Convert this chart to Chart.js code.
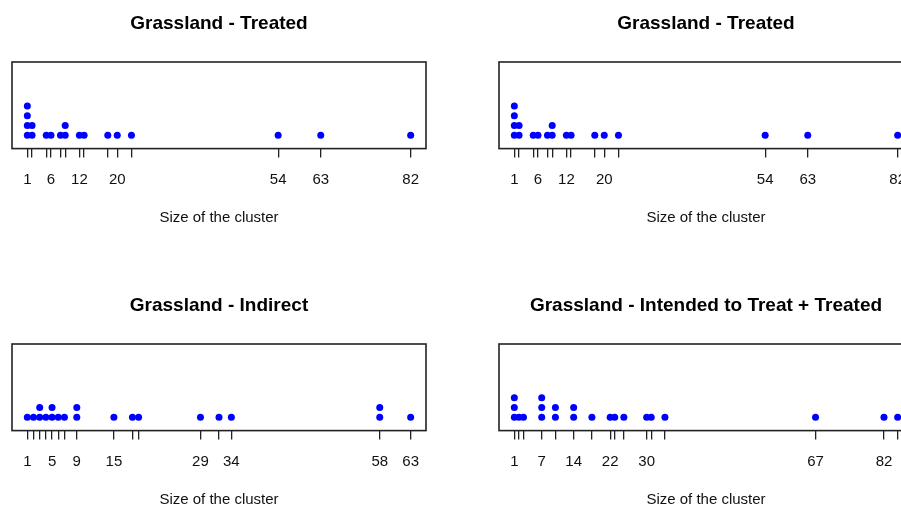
<!DOCTYPE html>
<html>
<head>
<meta charset="utf-8">
<script src="https://cdn.jsdelivr.net/npm/chart.js@4.4.0/dist/chart.umd.min.js"></script>
<style>
  html, body { margin: 0; padding: 0; background: #fff; width: 901px; height: 506px; overflow: hidden; position: relative; }
  canvas { position: absolute; }
</style>
</head>
<body>
<canvas id="c1" width="450" height="253" style="left:0;top:0"></canvas>
<canvas id="c2" width="450" height="253" style="left:487px;top:0"></canvas>
<canvas id="c3" width="450" height="253" style="left:0;top:282px"></canvas>
<canvas id="c4" width="450" height="253" style="left:487px;top:282px"></canvas>
<script>
// cluster sizes, one entry per cluster
var treated = [1, 1, 1, 1, 2, 2, 5, 6, 8, 9, 9, 12, 13, 18, 20, 23, 54, 63, 82]
var treatedLabels = [1, 6, 12, 20, 54, 63, 82]

var indirect = [1, 2, 3, 3, 4, 5, 5, 6, 7, 9, 9, 15, 18, 19, 29, 32, 34, 58, 58, 63]
var indirectLabels = [1, 5, 9, 15, 29, 34, 58, 63]

var intended = [1, 1, 1, 2, 3, 7, 7, 7, 10, 10, 14, 14, 18, 22, 23, 25, 30, 31, 34, 67, 82, 85]
var intendedLabels = [1, 7, 14, 22, 30, 67, 82]

var FONT = "'Liberation Sans', Arial, sans-serif"

// stack repeated values on top of each other (like stripchart method="stack")
function stack(values) {
    var seen = {}
    return values.map(function(v) {
        var n = seen[v] || 0
        seen[v] = n + 1
        return {x: v, y: n}
    })
}

var boxPlugin = {
    id: 'box',
    afterDraw: function(chart) {
        var a = chart.chartArea
        var ctx = chart.ctx
        ctx.save()
        ctx.strokeStyle = '#222'
        ctx.lineWidth = 1.6
        ctx.strokeRect(a.left, a.top, a.right - a.left, a.bottom - a.top)
        ctx.restore()
    }
}

function makeChart(id, title, values, labels) {
    var lo = Math.min.apply(null, values)
    var hi = Math.max.apply(null, values)
    var pad = (hi - lo) * 0.04
    var uniq = values.filter(function(v, i) { return values.indexOf(v) === i })

    new Chart(document.getElementById(id), {
        type: 'scatter',
        data: {
            datasets: [{
                data: stack(values),
                backgroundColor: '#0000ff',
                borderWidth: 0,
                pointRadius: 3.5,
                pointHoverRadius: 3.5
            }]
        },
        options: {
            responsive: false,
            animation: false,
            devicePixelRatio: 1,
            layout: { padding: { left: 12, right: 24, top: 0, bottom: 26 } },
            plugins: {
                legend: { display: false },
                tooltip: { enabled: false },
                title: {
                    display: true,
                    text: title,
                    color: '#000',
                    font: { family: FONT, size: 19, weight: 'bold' },
                    padding: { top: 12.6, bottom: 26.6 }
                }
            },
            scales: {
                x: {
                    type: 'linear',
                    min: lo - pad,
                    max: hi + pad,
                    afterBuildTicks: function(s) {
                        s.ticks = uniq.map(function(v) { return {value: v} })
                    },
                    grid: { drawOnChartArea: false, drawTicks: true, tickLength: 9, color: '#222', lineWidth: 1.3 },
                    border: { display: false },
                    ticks: {
                        autoSkip: false,
                        maxRotation: 0,
                        padding: 13.7,
                        color: '#111',
                        font: { family: FONT, size: 15 },
                        callback: function(v) { return labels.indexOf(v) >= 0 ? String(v) : '' }
                    },
                    title: {
                        display: true,
                        text: 'Size of the cluster',
                        color: '#111',
                        font: { family: FONT, size: 15 },
                        padding: { top: 6, bottom: 0 }
                    }
                },
                y: { display: false, min: -1.38, max: 7.55 }
            }
        },
        plugins: [boxPlugin]
    })
}

makeChart('c1', 'Grassland - Treated', treated, treatedLabels)
makeChart('c2', 'Grassland - Treated', treated, treatedLabels)
makeChart('c3', 'Grassland - Indirect', indirect, indirectLabels)
makeChart('c4', 'Grassland - Intended to Treat + Treated', intended, intendedLabels)
</script>
</body>
</html>
